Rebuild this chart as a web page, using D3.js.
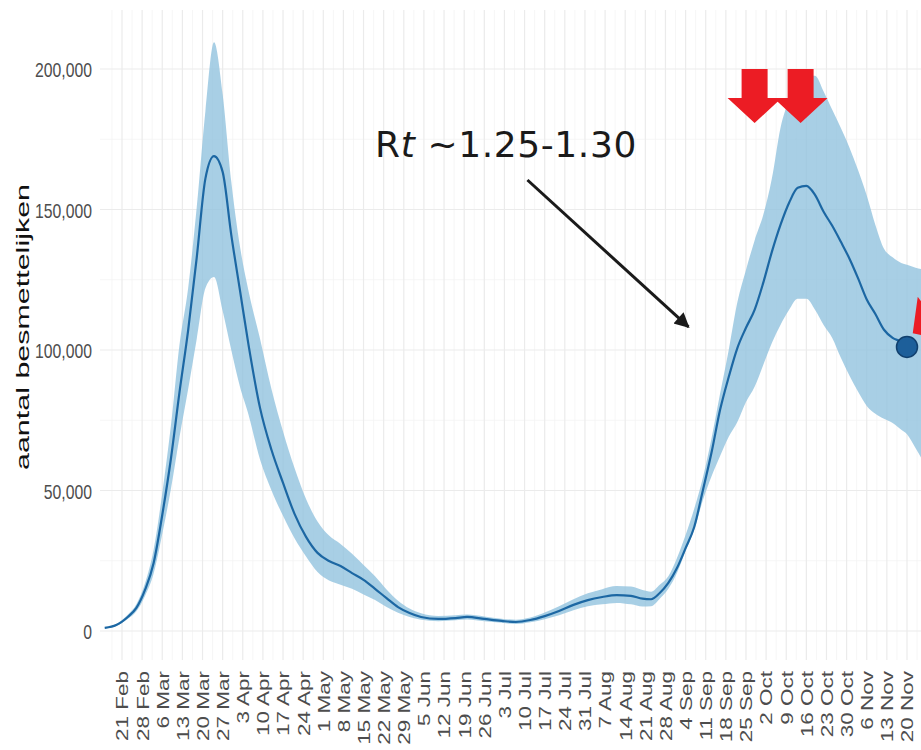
<!DOCTYPE html>
<html>
<head>
<meta charset="utf-8">
<script src="https://cdn.jsdelivr.net/npm/d3@7"></script>
<style>
  html, body { margin: 0; padding: 0; background: #ffffff; }
  svg { display: block; }
</style>
</head>
<body>
<svg id="chart" width="921" height="750"></svg>
<script>
// ---------------- data ----------------
const dates = [
  "2020-02-15","2020-02-19","2020-02-23","2020-02-26","2020-02-29","2020-03-03","2020-03-06","2020-03-09",
  "2020-03-12","2020-03-15","2020-03-18","2020-03-21","2020-03-24","2020-03-27","2020-03-30","2020-04-02",
  "2020-04-05","2020-04-09","2020-04-13","2020-04-17","2020-04-21","2020-04-25","2020-04-29","2020-05-03",
  "2020-05-07","2020-05-11","2020-05-15","2020-05-19","2020-05-23","2020-05-27","2020-05-31","2020-06-04",
  "2020-06-10","2020-06-16","2020-06-20","2020-06-26","2020-07-02","2020-07-07","2020-07-12","2020-07-17",
  "2020-07-22","2020-07-27","2020-08-01","2020-08-06","2020-08-11","2020-08-16","2020-08-20","2020-08-23",
  "2020-08-26","2020-08-29","2020-09-01","2020-09-04","2020-09-07","2020-09-10","2020-09-13","2020-09-16",
  "2020-09-19","2020-09-22","2020-09-25","2020-09-28","2020-10-01","2020-10-04","2020-10-07","2020-10-10",
  "2020-10-13","2020-10-16","2020-10-19","2020-10-22","2020-10-25","2020-10-28","2020-10-31","2020-11-03",
  "2020-11-06","2020-11-09","2020-11-12","2020-11-15","2020-11-18","2020-11-20","2020-11-23","2020-11-27"
];
const median = [
  1100, 2100, 5000, 8200, 14600, 24200, 41300, 61200,
  85000, 107000, 133000, 161000, 169000, 163400, 141000, 121400,
  101800, 79400, 64400, 52700, 41700, 33500, 27800, 24900,
  23100, 20600, 18200, 15000, 11700, 8500, 6400, 5000,
  4300, 4600, 5000, 4300, 3600, 3200, 3900, 5300,
  7100, 9300, 11000, 12100, 12800, 12500, 11500, 11300,
  13500, 17100, 22400, 29500, 37000, 50000, 63400, 78700,
  90400, 100700, 107900, 114300, 123900, 134900, 144500, 152400,
  157700, 158400, 155200, 149200, 144200, 138500, 132500, 125500,
  118000, 112800, 107200, 104300, 102900, 101100, null, null
];
const lower = [
  900, 1800, 4300, 7000, 12500, 20500, 34500, 50500,
  69000, 86000, 104000, 122000, 126000, 114000, 100000, 87000,
  77000, 61000, 50000, 41000, 33000, 26500, 21000, 18000,
  16500, 15000, 13000, 11000, 8500, 6500, 5000, 4000,
  3500, 3800, 4100, 3500, 2900, 2500, 3100, 4200,
  5600, 7400, 8800, 9500, 10000, 9500, 8700, 8800,
  11500, 15000, 20600, 28500, 36000, 46500, 55000, 62300,
  69100, 74400, 81500, 86900, 94700, 102500, 108900, 114300,
  118200, 118200, 114300, 108900, 104300, 97200, 90800, 85100,
  80100, 77300, 75500, 74000, 71600, 70000, 65000, 58000
];
const upper = [
  1300, 2500, 5800, 9500, 17000, 29000, 49000, 73000,
  102000, 122000, 151000, 185000, 209500, 191000, 160000, 137000,
  121000, 104000, 86000, 71000, 58000, 47000, 39000, 34000,
  31000, 27500, 23500, 19500, 14800, 10800, 8000, 6300,
  5300, 5600, 5900, 5200, 4400, 4000, 4800, 6600,
  8800, 11300, 13400, 14900, 16000, 15800, 14600, 14000,
  16500, 19500, 26000, 34200, 43500, 54500, 68500, 84500,
  100000, 117000, 128500, 139000, 148000, 161000, 179000, 189000,
  195400, 197600, 197600, 192000, 185500, 179000, 172000, 164000,
  155000, 144500, 136000, 133000, 131000, 130300, 129300, 128500
];
const tickLabels = [
  "21 Feb","28 Feb","6 Mar","13 Mar","20 Mar","27 Mar","3 Apr","10 Apr","17 Apr","24 Apr",
  "1 May","8 May","15 May","22 May","29 May","5 Jun","12 Jun","19 Jun","26 Jun","3 Jul",
  "10 Jul","17 Jul","24 Jul","31 Jul","7 Aug","14 Aug","21 Aug","28 Aug","4 Sep","11 Sep",
  "18 Sep","25 Sep","2 Oct","9 Oct","16 Oct","23 Oct","30 Oct","6 Nov","13 Nov","20 Nov"
];
const yTicks = [0, 50000, 100000, 150000, 200000];
const yMinor = [25000, 75000, 125000, 175000];
const yTitle = "aantal besmettelijken";
const currentDate = "2020-11-20";
const currentValue = 101100;
const measureDates = ["2020-09-28", "2020-10-14"];
const annotation = { date: "2020-05-19", value: 168700, pre: "R", ital: "t", post: " ~1.25-1.30" };
const annotArrow = { from: ["2020-07-11", 160500], to: ["2020-09-05", 108200] };
const offArrow = { date: "2020-11-22", value: 106000 };

// ---------------- setup ----------------
const parse = d3.timeParse("%Y-%m-%d");
const parseTick = d3.timeParse("%d %b %Y");
const svg = d3.select("#chart");
const W = 921, H = 750;
const panel = { left: 100, right: 921, top: 10, bottom: 660 };

const x = d3.scaleTime()
  .domain([parse("2020-02-21"), parse("2020-11-20")])
  .range([122, 907]);
const y = d3.scaleLinear().domain([0, 200000]).range([631, 69]);

const data = dates.map((d, i) => ({ date: parse(d), m: median[i], lo: lower[i], hi: upper[i] }));
const tickDates = tickLabels.map(t => parseTick(t + " 2020"));

// ---------------- grid ----------------
const grid = svg.append("g");
// minor vertical lines (mid-week)
const minorV = [];
const step = tickDates[1] - tickDates[0];
for (let i = -1; i < tickDates.length; i++) {
  minorV.push(new Date(+tickDates[0] + step * (i + 0.5)));
}
grid.selectAll(".vminor").data(minorV).join("line")
  .attr("x1", d => x(d)).attr("x2", d => x(d))
  .attr("y1", panel.top).attr("y2", panel.bottom)
  .attr("stroke", "#f4f4f4").attr("stroke-width", 0.8);
grid.selectAll(".hminor").data(yMinor).join("line")
  .attr("x1", panel.left).attr("x2", panel.right)
  .attr("y1", d => y(d)).attr("y2", d => y(d))
  .attr("stroke", "#f4f4f4").attr("stroke-width", 0.8);
grid.selectAll(".vmajor").data(tickDates).join("line")
  .attr("x1", d => x(d)).attr("x2", d => x(d))
  .attr("y1", panel.top).attr("y2", panel.bottom)
  .attr("stroke", "#ebebeb").attr("stroke-width", 1.2);
grid.selectAll(".hmajor").data(yTicks).join("line")
  .attr("x1", panel.left).attr("x2", panel.right)
  .attr("y1", d => y(d)).attr("y2", d => y(d))
  .attr("stroke", "#ebebeb").attr("stroke-width", 1.2);

// ---------------- band + line ----------------
const area = d3.area()
  .x(d => x(d.date)).y0(d => y(d.lo)).y1(d => y(d.hi))
  .curve(d3.curveMonotoneX);
svg.append("path").datum(data)
  .attr("d", area)
  .attr("fill", "#8fc1de").attr("fill-opacity", 0.78);

const line = d3.line()
  .defined(d => d.m != null)
  .x(d => x(d.date)).y(d => y(d.m))
  .curve(d3.curveMonotoneX);
svg.append("path").datum(data)
  .attr("d", line)
  .attr("fill", "none").attr("stroke", "#1c67a3").attr("stroke-width", 2.2);

svg.append("circle")
  .attr("cx", x(parse(currentDate))).attr("cy", y(currentValue))
  .attr("r", 10.5)
  .attr("fill", "#1d5f9a").attr("stroke", "#11406e").attr("stroke-width", 1.5);

// ---------------- axes ----------------
const yAxis = d3.axisLeft(y).tickValues(yTicks).tickFormat(d3.format(",")).tickSize(0).tickPadding(0);
const yg = svg.append("g").attr("transform", "translate(92,0)").call(yAxis);
yg.select(".domain").remove();
yg.selectAll("text")
  .attr("font-family", "Liberation Sans, Arial, sans-serif")
  .attr("font-size", 21).attr("fill", "#4d4d4d").attr("dy", "0.36em")
  .each(function () {
    const l = this.getComputedTextLength();
    d3.select(this).attr("textLength", l * 0.75).attr("lengthAdjust", "spacingAndGlyphs");
  });

const xAxis = d3.axisBottom(x).tickValues(tickDates)
  .tickFormat((d, i) => tickLabels[i]).tickSize(0).tickPadding(0);
const xg = svg.append("g").attr("transform", "translate(0,671)").call(xAxis);
xg.select(".domain").remove();
xg.selectAll("text")
  .attr("font-family", "Liberation Sans, Arial, sans-serif")
  .attr("font-size", 16.3).attr("fill", "#4d4d4d")
  .attr("transform", "rotate(-90)")
  .attr("text-anchor", "end")
  .attr("x", 0).attr("y", 0).attr("dy", "0.36em")
  .each(function () {
    const l = this.getComputedTextLength();
    d3.select(this).attr("textLength", l * 1.38).attr("lengthAdjust", "spacingAndGlyphs");
  });

svg.append("text")
  .attr("transform", "translate(29,327) rotate(-90)")
  .attr("text-anchor", "middle")
  .attr("font-family", "Liberation Sans, Arial, sans-serif")
  .attr("font-size", 17.5).attr("fill", "#111")
  .attr("textLength", 286).attr("lengthAdjust", "spacingAndGlyphs")
  .text(yTitle);

// ---------------- annotations ----------------
const defs = svg.append("defs");
defs.append("marker").attr("id", "ah")
  .attr("viewBox", "0 0 10 10").attr("refX", 9).attr("refY", 5)
  .attr("markerWidth", 6).attr("markerHeight", 5).attr("orient", "auto")
  .attr("markerUnits", "strokeWidth")
  .append("path").attr("d", "M0,0 L10,5 L0,10 Z").attr("fill", "#1a1a1a");

const at = svg.append("text")
  .attr("x", x(parse(annotation.date))).attr("y", y(annotation.value))
  .attr("font-family", "DejaVu Sans, Verdana, sans-serif")
  .attr("font-size", 36).attr("fill", "#1a1a1a").attr("letter-spacing", 0.6);
at.append("tspan").text(annotation.pre);
at.append("tspan").attr("font-style", "italic").text(annotation.ital);
at.append("tspan").text(annotation.post);

svg.append("line")
  .attr("x1", x(parse(annotArrow.from[0]))).attr("y1", y(annotArrow.from[1]))
  .attr("x2", x(parse(annotArrow.to[0]))).attr("y2", y(annotArrow.to[1]))
  .attr("stroke", "#1a1a1a").attr("stroke-width", 3)
  .attr("marker-end", "url(#ah)");

// red block arrows
function blockArrow(tx, ty) {
  return `M${tx - 13},${ty - 54} L${tx + 13},${ty - 54} L${tx + 13},${ty - 25} L${tx + 27},${ty - 25} ` +
         `L${tx},${ty} L${tx - 27},${ty - 25} L${tx - 13},${ty - 25} Z`;
}
const arrowTop = y(200000);
svg.selectAll(".measure").data(measureDates).join("path")
  .attr("d", d => blockArrow(x(parse(d)), arrowTop + 54))
  .attr("fill", "#ec1c24");

const ox = x(parse(offArrow.date)), oy = y(offArrow.value);
svg.append("path")
  .attr("d", blockArrow(ox, oy))
  .attr("transform", `rotate(55,${ox},${oy})`)
  .attr("fill", "#ec1c24");
</script>
</body>
</html>
